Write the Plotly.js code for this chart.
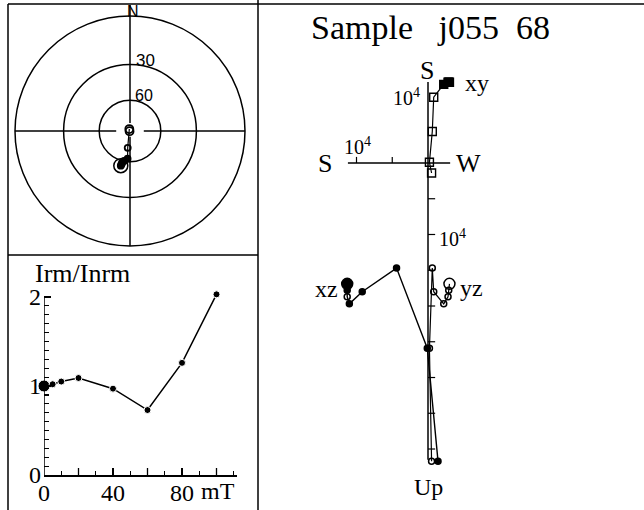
<!DOCTYPE html>
<html>
<head>
<meta charset="utf-8">
<script src="https://cdn.plot.ly/plotly-3.0.1.min.js"></script>
<style>
  html, body { margin: 0; padding: 0; background: #fff; }
  #chart { width: 644px; height: 510px; }
</style>
</head>
<body>
<div id="chart"></div>
<script>
// demag steps (mT) and intensity ratio
const fieldMT = [0, 5, 10, 20, 40, 60, 80, 100];
const irmRatio = [1.00, 1.02, 1.05, 1.09, 0.97, 0.73, 1.26, 2.03];

// vector components per step, in units of 10^4
const southComp = [1.13, 1.13, 1.13, 1.10, 0.92, 0.44, 0.01, -0.14];
const westComp  = [0.30, 0.29, 0.28, 0.22, 0.08, 0.06, 0.02, 0.05];
const upComp    = [1.69, 1.78, 1.87, 1.97, 1.80, 1.47, 2.59, 4.17];

// stereonet rings (inclination, degrees)
const ringIncl = [0, 30, 60];

const W = 644, H = 510;
const px = x => x / W;
const py = y => 1 - y / H;
const SERIF = "Liberation Serif, Times New Roman, serif";
const SANS = "Liberation Sans, Arial, sans-serif";

function label(text, x, y, size, family) {
  return {
    text, xref: "paper", yref: "paper", x: px(x), y: py(y),
    xanchor: "center", yanchor: "middle", showarrow: false,
    font: { family: family || SERIF, size, color: "#000" },
  };
}

function seg(x0, y0, x1, y1, xref, yref, width) {
  return {
    type: "line", xref, yref, x0, y0, x1, y1,
    line: { color: "#000", width: width || 1.5 },
  };
}

// ------------------------------
// Stereonet (Wulff projection of the same vectors)
// ------------------------------

const stereoX = [], stereoY = [];
southComp.forEach((s, i) => {
  const n = -s, e = -westComp[i], d = -upComp[i];
  const dec = Math.atan2(e, n);
  const inc = Math.atan2(d, Math.hypot(n, e));
  const r = Math.tan((Math.PI / 2 - Math.abs(inc)) / 2);
  stereoX.push(r * Math.sin(dec));
  stereoY.push(r * Math.cos(dec));
});

const shapes = [];

ringIncl.forEach(inc => {
  const r = Math.tan((90 - inc) * Math.PI / 360);
  shapes.push({
    type: "circle", xref: "x", yref: "y", x0: -r, y0: -r, x1: r, y1: r,
    line: { color: "#000", width: 1.5 },
  });
});
shapes.push(seg(-1, 0, -0.12, 0, "x", "y"));
shapes.push(seg(0.12, 0, 1, 0, "x", "y"));
shapes.push(seg(0, 1.096, 0, 0.07, "x", "y"));
shapes.push(seg(0, -0.05, 0, -1, "x", "y"));

// ------------------------------
// Irm axis extras (axis line up to 2, longer ticks every 20 mT)
// ------------------------------

shapes.push(seg(0, 0, 0, 2, "x2", "y2"));
[20, 60, 100].forEach(f => shapes.push(seg(f, 0, f, 0.079, "x2", "y2", 1.3)));

// ------------------------------
// Zijderveld axes and ticks
// ------------------------------

shapes.push(seg(-1.12, 0, 0.31, 0, "x3", "y3"));
shapes.push(seg(0, 1.133, 0, -4.15, "x3", "y3"));
[-1, -0.5].forEach(u => shapes.push(seg(u, 0, u, 0.085, "x3", "y3", 1.2)));
for (let v = -0.5; v >= -4; v -= 0.5) {
  shapes.push(seg(0, v, 0.1, v, "x3", "y3", 1.2));
}

// ------------------------------
// Panel frames
// ------------------------------

shapes.push(seg(px(8), py(4), px(644), py(4), "paper", "paper"));
shapes.push(seg(px(8), py(4), px(8), py(510), "paper", "paper"));
shapes.push(seg(px(258), py(0), px(258), py(510), "paper", "paper"));
shapes.push(seg(px(8), py(255), px(258), py(255), "paper", "paper"));

const traces = [
  {
    x: stereoX, y: stereoY, xaxis: "x", yaxis: "y",
    mode: "lines+markers", cliponaxis: false,
    line: { color: "#000", width: 1.2 },
    marker: {
      symbol: stereoX.map((_, i) => (i >= 5 ? "circle-open" : "circle")),
      size: stereoX.map((_, i) => (i >= 6 ? 8 : 6)),
      opacity: 1, color: "#000", line: { color: "#000", width: 1.8 },
    },
  },
  {
    x: [stereoX[0]], y: [stereoY[0]], xaxis: "x", yaxis: "y",
    mode: "markers", cliponaxis: false,
    marker: { symbol: "circle-open", size: 14, opacity: 1, color: "#000", line: { color: "#000", width: 1.5 } },
  },
  {
    x: fieldMT, y: irmRatio, xaxis: "x2", yaxis: "y2",
    mode: "lines+markers", cliponaxis: false,
    line: { color: "#000", width: 1.5 },
    marker: { color: "#000", opacity: 1, size: fieldMT.map((_, i) => (i === 0 ? 12 : 7)) },
  },
  {
    // horizontal projection
    x: westComp, y: southComp, xaxis: "x3", yaxis: "y3",
    mode: "lines+markers", cliponaxis: false,
    line: { color: "#000", width: 1.2 },
    marker: {
      symbol: westComp.map((_, i) => (i < 4 ? "square" : "square-open")),
      size: 8, opacity: 1, color: "#000", line: { color: "#000", width: 1.4 },
    },
  },
  {
    // S-Up projection
    x: southComp.map(v => -v), y: upComp.map(v => -v), xaxis: "x3", yaxis: "y3",
    mode: "lines+markers", cliponaxis: false,
    line: { color: "#000", width: 1.4 },
    marker: {
      symbol: southComp.map((_, i) => (i === 2 ? "circle-open" : "circle")),
      color: "#000", opacity: 1, line: { color: "#000", width: 1.5 },
      size: southComp.map((_, i) => (i === 0 ? 11 : 6)),
    },
  },
  {
    // W-Up projection
    x: westComp, y: upComp.map(v => -v), xaxis: "x3", yaxis: "y3",
    mode: "lines+markers", cliponaxis: false,
    line: { color: "#000", width: 1.2 },
    marker: {
      symbol: "circle-open", color: "#000", opacity: 1,
      size: westComp.map((_, i) => (i === 0 ? 11 : 6)),
      line: { color: "#000", width: 1.5 },
    },
  },
];

const annotations = [
  label("Sample\u00a0\u00a0\u00a0j055\u00a0\u00a068", 430, 27, 34),
  label("N", 133, 11, 16, SANS),
  label("30", 145, 60, 17, SANS),
  label("60", 144, 95, 16, SANS),
  label("Irm/Inrm", 82, 273, 26),
  label("mT", 218, 491, 24),
  label("S", 325, 164, 26),
  label("W", 468, 164, 26),
  label("S", 427, 71, 26),
  label("Up", 428, 487, 24),
  label("xy", 477, 83, 24),
  label("xz", 326, 289, 24),
  label("yz", 471, 288, 24),
  label("10<sup>4</sup>", 357, 146, 20),
  label("10<sup>4</sup>", 406, 97, 20),
  label("10<sup>4</sup>", 452, 238, 20),
];

const hidden = { visible: false, fixedrange: true };

const layout = {
  width: W, height: H,
  margin: { l: 0, r: 0, t: 0, b: 0 },
  paper_bgcolor: "#fff", plot_bgcolor: "rgba(0,0,0,0)",
  showlegend: false,
  xaxis: Object.assign({ domain: [px(3.5), px(256.5)], range: [-1.1, 1.1], anchor: "y" }, hidden),
  yaxis: Object.assign({ domain: [py(257.5), py(4.5)], range: [-1.1, 1.1], anchor: "x" }, hidden),
  xaxis2: {
    domain: [px(44), px(237.2)], range: [0, 112], anchor: "y2",
    showline: true, linecolor: "#000", linewidth: 1.5,
    showgrid: false, zeroline: false,
    ticks: "inside", ticklen: 7, tickwidth: 1.3, tickcolor: "#000",
    tickmode: "array", tickvals: [0, 40, 80], ticktext: ["0", "40", "80"],
    ticklabelstandoff: -4,
    minor: { dtick: 10, tick0: 0, ticks: "inside", ticklen: 4, tickwidth: 1.2, tickcolor: "#000", showgrid: false },
    tickfont: { family: SERIF, size: 24, color: "#000" },
  },
  yaxis2: {
    domain: [py(475), py(475 - 2.08 * 89)], range: [0, 2.08], anchor: "x2",
    showline: false, showgrid: false, zeroline: false,
    ticks: "inside", ticklen: 7, tickwidth: 1.3, tickcolor: "#000",
    tickmode: "array", tickvals: [0, 1, 2],
    ticklabelstandoff: 2,
    minor: { dtick: 0.1, tick0: 0, ticks: "inside", ticklen: 5, tickwidth: 1.2, tickcolor: "#000", showgrid: false },
    tickfont: { family: SERIF, size: 24, color: "#000" },
  },
  xaxis3: Object.assign({ domain: [px(290), px(640)], range: [-1.930, 2.965], anchor: "y3" }, hidden),
  yaxis3: Object.assign({ domain: [py(505), py(40)], range: [-4.783, 1.720], anchor: "x3" }, hidden),
  shapes,
  annotations,
};

Plotly.newPlot("chart", traces, layout, { displayModeBar: false, staticPlot: true });
</script>
</body>
</html>
